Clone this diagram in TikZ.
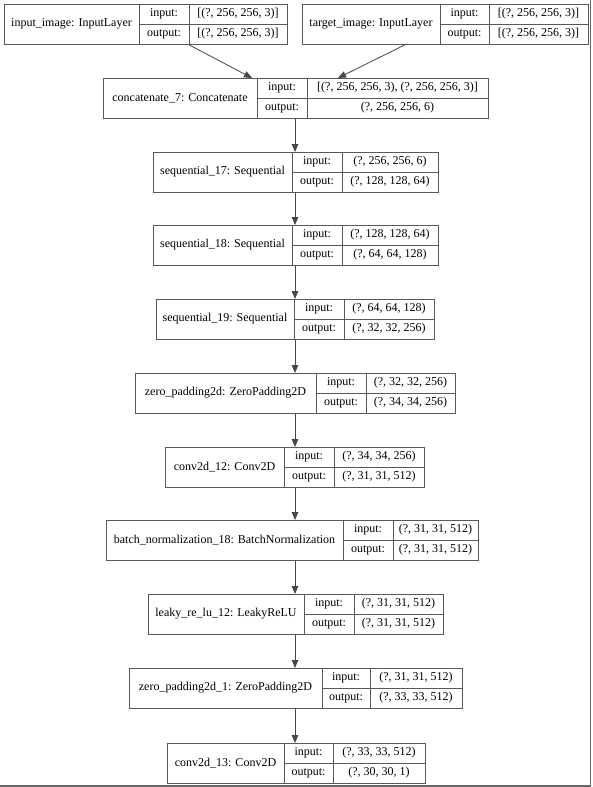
\documentclass[tikz,border=0pt]{standalone}
\usepackage{fontspec}
\setmainfont{Liberation Serif}
\usetikzlibrary{arrows.meta,calc}
\definecolor{boxline}{gray}{0.35}
\definecolor{edgeline}{gray}{0.28}
\definecolor{frameline}{gray}{0.4}
\tikzset{
  box/.style={draw=boxline, line width=0.8pt, rectangle, inner sep=0pt, fill=white},
  divider/.style={draw=boxline, line width=0.8pt},
  txt/.style={inner sep=0pt, font=\fontsize{12}{14}\selectfont, text=black},
  edge/.style={draw=edgeline, line width=0.8pt, -{Triangle[length=8pt,width=6.5pt]}},
}
\newcommand\layerbox[9]{%
  \node[box, minimum width={(#5-#2)*1pt}, minimum height=40pt, anchor=north west] (#1) at (#2,#6) {};
  \draw[divider] (#3,#6) -- (#3,{#6+40});
  \draw[divider] (#4,#6) -- (#4,{#6+40});
  \draw[divider] (#3,{#6+20}) -- (#5,{#6+20});
  \node[txt] (#1-name) at ({(#2+#3)/2},{#6+20}) {#7};
  \node[txt] (#1-inl) at ({(#3+#4)/2},{#6+10}) {input:};
  \node[txt] (#1-outl) at ({(#3+#4)/2},{#6+30}) {output:};
  \node[txt] (#1-inv) at ({(#4+#5)/2},{#6+10}) {#8};
  \node[txt] (#1-outv) at ({(#4+#5)/2},{#6+30}) {#9};
}
\begin{document}
\begin{tikzpicture}[x=1pt,y=-1pt]
\useasboundingbox (0,0) rectangle (592,787);
\fill[white] (0,0) rectangle (592,787);
\draw[frameline, line width=1.6pt] (590.6,0) -- (590.6,786.2) -- (0,786.2);

\layerbox{inp}{4}{139}{189}{287}{4}{input\_image: InputLayer}{[(?, 256, 256, 3)]}{[(?, 256, 256, 3)]}
\layerbox{tgt}{302}{440}{489}{588}{4}{target\_image: InputLayer}{[(?, 256, 256, 3)]}{[(?, 256, 256, 3)]}
\layerbox{cat}{103}{257}{307}{488}{78}{concatenate\_7: Concatenate}{[(?, 256, 256, 3), (?, 256, 256, 3)]}{(?, 256, 256, 6)}
\layerbox{sa}{153}{292}{342}{438}{152}{sequential\_17: Sequential}{(?, 256, 256, 6)}{(?, 128, 128, 64)}
\layerbox{sb}{153}{292}{342}{438}{225}{sequential\_18: Sequential}{(?, 128, 128, 64)}{(?, 64, 64, 128)}
\layerbox{sc}{156}{294}{344}{434}{299}{sequential\_19: Sequential}{(?, 64, 64, 128)}{(?, 32, 32, 256)}
\layerbox{zp}{135}{316}{366}{455}{373}{zero\_padding2d: ZeroPadding2D}{(?, 32, 32, 256)}{(?, 34, 34, 256)}
\layerbox{ca}{165}{284}{334}{424}{447}{conv2d\_12: Conv2D}{(?, 34, 34, 256)}{(?, 31, 31, 512)}
\layerbox{bn}{106}{343}{393}{478}{520}{batch\_normalization\_18: BatchNormalization}{(?, 31, 31, 512)}{(?, 31, 31, 512)}
\layerbox{lr}{148}{304}{354}{443}{594}{leaky\_re\_lu\_12: LeakyReLU}{(?, 31, 31, 512)}{(?, 31, 31, 512)}
\layerbox{zq}{129}{322}{370}{462}{668}{zero\_padding2d\_1: ZeroPadding2D}{(?, 31, 31, 512)}{(?, 33, 33, 512)}
\layerbox{cb}{167}{284}{333}{425}{743}{conv2d\_13: Conv2D}{(?, 33, 33, 512)}{(?, 30, 30, 1)}

\coordinate (axis) at (295,0);
\draw[edge] ($(inp.south west)+(185,0)$) -- ($(cat.north west)+(149,0)$);
\draw[edge] ($(tgt.south west)+(103,0)$) -- ($(cat.north west)+(235,0)$);
\draw[edge] (cat.south -| axis) -- (sa.north -| axis);
\draw[edge] (sa.south -| axis) -- (sb.north -| axis);
\draw[edge] (sb.south -| axis) -- (sc.north -| axis);
\draw[edge] (sc.south -| axis) -- (zp.north -| axis);
\draw[edge] (zp.south -| axis) -- (ca.north -| axis);
\draw[edge] (ca.south -| axis) -- (bn.north -| axis);
\draw[edge] (bn.south -| axis) -- (lr.north -| axis);
\draw[edge] (lr.south -| axis) -- (zq.north -| axis);
\draw[edge] (zq.south -| axis) -- (cb.north -| axis);
\end{tikzpicture}
\end{document}
